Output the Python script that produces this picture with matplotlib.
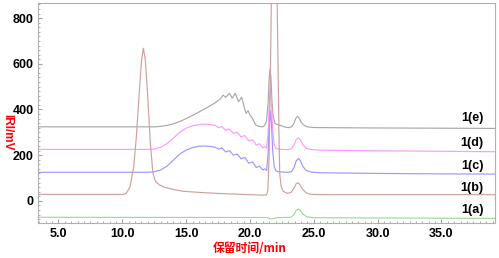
import matplotlib
matplotlib.use("Agg")
import matplotlib.pyplot as plt
from matplotlib import ticker

plt.rcParams["font.family"] = ["Liberation Sans", "DejaVu Sans"]

# ---- data (retention time min, signal mV) ----
e_x = [3.4, 12.5, 13.0, 13.5, 14.0, 14.5, 15.0, 15.5, 16.0, 16.5, 17.0, 17.3, 17.5, 17.65,
       17.9, 18.1, 18.4, 18.6, 18.85, 19.1, 19.35, 19.55, 19.7, 19.85, 20.0, 20.2, 20.45,
       20.7, 21.0, 21.15, 21.3, 21.42, 21.5, 21.57, 21.64, 21.72, 21.82, 21.95, 22.15, 22.4,
       22.7, 23.0, 23.25, 23.45, 23.6, 23.72, 23.85, 24.0, 24.2, 24.5, 25.0, 27.0, 30.0, 35.0, 39.2]
e_y = [324, 324, 326, 330, 337, 347, 360, 374, 389, 404, 420, 430, 440, 444,
       463, 453, 471, 449, 471, 434, 453, 410, 383, 395, 376, 360, 332,
       326, 324, 330, 350, 430, 530, 576, 540, 440, 370, 340, 334, 330,
       324, 320, 324, 340, 362, 370, 362, 345, 332, 324, 321, 320, 319, 318, 317]

d_x = [3.4, 12.0, 12.5, 13.0, 13.5, 14.0, 14.5, 15.0, 15.5, 16.0, 16.5, 17.0, 17.3, 17.55,
       17.8, 18.1, 18.4, 18.7, 19.0, 19.3, 19.6, 19.9, 20.2, 20.5, 20.75, 21.0, 21.15, 21.3,
       21.42, 21.52, 21.6, 21.68, 21.78, 21.9, 22.05, 22.3, 22.6, 23.0, 23.25, 23.45, 23.62,
       23.8, 23.95, 24.15, 24.4, 24.8, 25.5, 30.0, 35.0, 39.2]
d_y = [225, 225, 227, 234, 250, 274, 300, 318, 328, 334, 336, 333, 330, 320,
       326, 308, 315, 295, 300, 280, 286, 262, 268, 244, 250, 232, 238, 230,
       300, 430, 488, 430, 310, 245, 228, 226, 225, 224, 228, 245, 268,
       276, 266, 245, 230, 224, 222, 219, 217, 215]

c_x = d_x
c_y = [125, 125, 127, 135, 152, 178, 205, 222, 233, 239, 240, 237, 234, 226,
       232, 214, 220, 200, 205, 184, 190, 165, 170, 146, 152, 135, 140, 133,
       200, 330, 394, 340, 220, 150, 130, 127, 126, 125, 128, 145, 175,
       186, 175, 150, 133, 126, 123, 120, 118, 117]

b_x = [3.4, 10.0, 10.3, 10.6, 10.9, 11.1, 11.3, 11.5, 11.65, 11.8, 12.0, 12.2, 12.4, 12.6,
       12.9, 13.3, 14.0, 14.75, 16.0, 17.0, 18.0, 19.0, 20.0, 21.0, 21.3, 21.4, 21.5, 21.6,
       21.68, 21.9, 22.12, 22.2, 22.27, 22.33, 22.45, 22.6, 22.9, 23.2, 23.45, 23.62, 23.75,
       23.9, 24.1, 24.4, 24.8, 26.0, 30.0, 35.0, 39.2]
b_y = [28, 28, 32, 60, 150, 280, 450, 610, 668, 620, 450, 250, 120, 85,
       70, 60, 50, 42, 37, 34, 31, 29, 27, 25, 26, 45, 200, 550,
       900, 1500, 900, 600, 300, 120, 60, 42, 33, 36, 55, 75, 79,
       72, 52, 35, 28, 27, 27, 27, 27]

a_x = [3.4, 21.3, 21.5, 21.65, 21.85, 22.1, 22.6, 23.2, 23.45, 23.62, 23.8, 23.95, 24.15,
       24.45, 25.0, 30.0, 35.0, 39.2]
a_y = [-72, -73, -76, -80, -77, -74, -73, -72, -60, -42, -36, -42, -58,
       -70, -74, -75, -76, -77]

series = [("1(e)", e_x, e_y, "#a8a8a8", 362),
          ("1(d)", d_x, d_y, "#ff99ff", 253),
          ("1(c)", c_x, c_y, "#9999ff", 152),
          ("1(b)", b_x, b_y, "#d0a0a0", 56),
          ("1(a)", a_x, a_y, "#a0d8a0", -40)]

fig = plt.figure(figsize=(4.99, 2.58), dpi=100)
ax = fig.add_axes([0.0762, 0.1357, 0.916, 0.8543])

for name, xs, ys, col, ly in series:
    ax.plot(xs, ys, color=col, lw=0.85)
    ax.text(37.4, ly, name, ha="center", va="center", size=9, weight="bold", color="black")

ax.set_xlim(3.4, 39.2)
ax.set_ylim(-97, 868)
ax.xaxis.set_major_locator(ticker.MultipleLocator(5))
ax.xaxis.set_minor_locator(ticker.MultipleLocator(0.5))
ax.xaxis.set_major_formatter(ticker.FormatStrFormatter("%.1f"))
ax.yaxis.set_major_locator(ticker.MultipleLocator(200))
ax.yaxis.set_minor_locator(ticker.MultipleLocator(20))
ax.tick_params(which="both", direction="in", color="#a0a0a0", labelsize=9)
ax.tick_params(which="major", length=3, width=0.8)
ax.tick_params(which="minor", length=1.5, width=0.6)
ax.tick_params(axis="x", pad=3.5)
ax.tick_params(axis="y", pad=3)
for lab in ax.get_xticklabels() + ax.get_yticklabels():
    lab.set_fontweight("bold")
for s in ax.spines.values():
    s.set_color("#b0b0b0")
    s.set_linewidth(0.8)

fig.text(7 / 499, 1 - 132 / 258, "IRI/mV", rotation=270, ha="center", va="center",
         color="red", size=8.5, weight="bold")
fig.text(250 / 499, 1 - 248 / 258, "保留时间/min", ha="center", va="center", color="red",
         size=8.5, weight="bold", family=["Noto Sans CJK SC", "DejaVu Sans"])

fig.savefig("out.png", dpi=100)
